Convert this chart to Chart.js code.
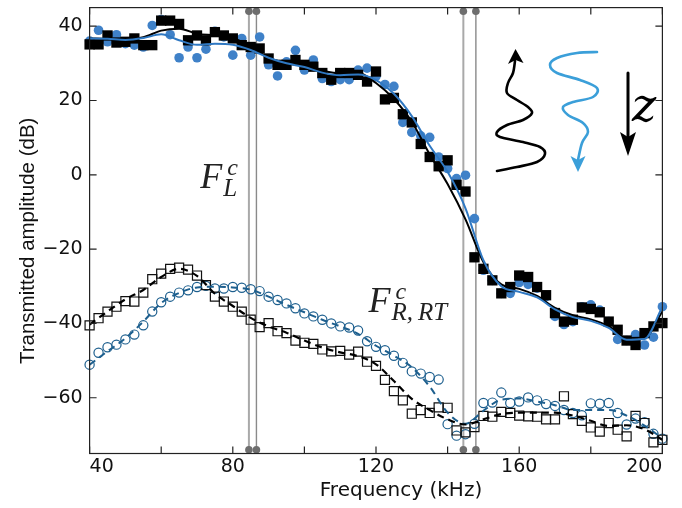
<!DOCTYPE html>
<html>
<head>
<meta charset="utf-8">
<script src="https://cdn.jsdelivr.net/npm/chart.js@4.4.1/dist/chart.umd.min.js"></script>
<style>
  html, body { margin: 0; padding: 0; background: #fff; }
  #wrap { width: 682px; height: 508px; position: relative; }
</style>
</head>
<body>
<div id="wrap"><canvas id="ampChart"></canvas></div>
<script>
// measured frequencies (kHz)
const freq = [
  40, 42.5, 45, 47.5, 50, 52.5, 55, 57.5,
  60, 62.5, 65, 67.5, 70, 72.5, 75, 77.5,
  80, 82.5, 85, 87.5, 90, 92.5, 95, 97.5,
  100, 102.5, 105, 107.5, 110, 112.5, 115, 117.5,
  120, 122.5, 125, 127.5, 130, 132.5, 135, 137.5,
  140, 142.5, 145, 147.5, 150, 152.5, 155, 157.5,
  160, 162.5, 165, 167.5, 170, 172.5, 175, 177.5,
  180, 182.5, 185, 187.5, 190, 192.5, 195, 197.5,
  200,
];
// filled squares (upper, black)
const topBlack = [
  35.1, 35.1, 37.5, 35.6, 35.8, 36.7, 34.9, 34.9,
  41.5, 41.5, 40.6, 36.2, 37.5, 36.2, 38.4, 37.5,
  36.7, 34.9, 34.4, 34.0, 31.3, 29.6, 29.6, 30.9,
  29.6, 29.1, 27.4, 25.6, 27.4, 27.4, 26.9, 25.1,
  27.8, 20.3, 20.7, 16.3, 14.1, 8.3, 4.8, 2.3,
  3.9, -2.7, -4.5, -22.2, -25.3, -28.4, -31.9, -30.2,
  -27.1, -27.5, -30.2, -32.4, -37.2, -39.5, -39.0, -35.7,
  -36.1, -37.0, -39.5, -41.7, -44.6, -45.8, -42.6, -40.8,
  -39.9,
];
// filled circles (upper, blue)
const topBlue = [
  36.0, 38.9, 35.8, 37.7, 35.3, 34.9, 34.4, 40.2,
  41.8, 37.7, 31.5, 34.4, 31.5, 33.8, 38.6, 37.1,
  32.2, 36.7, 32.2, 37.1, 29.6, 26.6, 30.4, 33.5,
  28.2, 30.9, 25.9, 25.1, 25.6, 25.6, 28.2, 28.7,
  26.5, 24.3, 23.8, 14.1, 11.4, 10.5, 10.1, 4.8,
  1.7, -1.0, -0.1, -11.8, -25.7, -28.4, -31.9, -31.9,
  -29.0, -29.5, -30.5, -32.8, -38.1, -40.3, -39.5, -35.5,
  -35.0, -36.4, -39.5, -44.3, -44.6, -43.0, -45.8, -43.7,
  -35.5,
];
// open squares (lower, black)
const botBlack = [
  -40.5, -38.6, -36.8, -35.5, -34.0, -34.1, -31.7, -28.1,
  -26.6, -25.3, -25.0, -25.5, -27.1, -29.7, -32.8, -34.1,
  -35.5, -36.8, -39.0, -41.0, -39.9, -42.1, -42.6, -44.6,
  -45.2, -45.5, -47.0, -47.5, -47.4, -48.4, -47.6, -50.3,
  -51.4, -55.2, -58.2, -60.7, -64.3, -63.3, -64.1, -62.6,
  -62.7, -68.8, -69.3, -67.9, -64.9, -65.1, -63.8, -64.1,
  -64.8, -65.0, -65.1, -65.8, -65.8, -59.6, -64.4, -66.2,
  -68.0, -69.1, -66.8, -68.6, -70.4, -64.9, -66.8, -72.0,
  -71.3,
];
// open circles (lower, blue)
const botBlue = [
  -51.1, -47.9, -46.4, -45.7, -44.3, -43.0, -40.5, -36.8,
  -34.3, -32.8, -31.7, -31.1, -30.2, -29.9, -30.6, -30.6,
  -30.2, -30.4, -30.8, -31.3, -32.8, -33.7, -34.6, -35.9,
  -37.3, -38.1, -39.0, -40.0, -40.8, -41.1, -41.9, -44.8,
  -46.3, -47.2, -48.7, -50.6, -52.9, -53.5, -54.4, -55.1,
  -67.1, -70.2, -69.8, -67.0, -61.4, -61.3, -58.6, -61.4,
  -61.0, -59.9, -60.7, -61.7, -62.2, -63.3, -64.1, -64.7,
  -61.5, -61.6, -61.4, -64.1, -67.2, -65.6, -66.6, -69.7,
  -71.0,
];

// smoothed fits, every 5 kHz
const fitFreq = [
  40, 45, 50, 55, 60, 65, 70, 75,
  80, 85, 90, 95, 100, 105, 110, 115,
  120, 125, 130, 135, 140, 145, 150, 155,
  160, 165, 170, 175, 180, 185, 190, 195,
  200,
];
const fitTopBlack = [
  36.7, 36.6, 36.4, 37.0, 38.8, 39.3, 38.0, 37.5,
  36.8, 34.4, 31.5, 30.0, 29.3, 28.0, 27.3, 27.5,
  24.7, 20.4, 14.3, 5.5, -2.5, -12.0, -23.5, -29.5,
  -30.7, -32.6, -35.8, -37.8, -38.9, -40.7, -43.9, -43.8,
  -36.8,
];
const fitTopBlue = [
  36.7, 36.6, 36.3, 36.8, 37.8, 36.2, 35.0, 35.3,
  35.0, 33.6, 31.5, 30.0, 29.0, 27.5, 26.8, 27.0,
  25.5, 21.8, 15.8, 7.8, 0.8, -9.0, -23.0, -30.0,
  -31.5, -33.0, -36.2, -38.3, -39.3, -41.2, -44.4, -44.2,
  -35.5,
];
const fitBotBlack = [
  -40.3, -36.8, -33.5, -31.0, -27.5, -25.3, -27.2, -32.0,
  -35.3, -38.5, -40.8, -42.5, -44.6, -46.5, -47.8, -48.8,
  -51.0, -55.5, -60.3, -63.3, -65.8, -67.2, -65.8, -64.4,
  -64.0, -64.0, -64.0, -64.8, -66.2, -67.6, -67.4, -68.5,
  -71.3,
];
const fitBotBlue = [
  -51.1, -47.5, -44.0, -39.5, -34.5, -31.8, -30.3, -30.1,
  -30.3, -30.9, -32.8, -35.0, -37.0, -39.0, -40.8, -42.8,
  -46.0, -48.7, -51.8, -57.0, -64.0, -67.0, -63.5, -60.5,
  -60.2, -61.0, -62.0, -63.3, -63.3, -63.3, -64.8, -67.5,
  -70.9,
];

// cut-off frequencies (vertical grey lines)
const cutLight = [84.5, 144.4];
const cutDark = [86.6, 147.9];

const xTickMarks = [40, 60, 80, 100, 120, 140, 160, 180, 200];
const yTickMarks = [-60, -40, -20, 0, 20, 40];

const sansWide = '"DejaVu Sans", sans-serif';
const sans = '"Liberation Sans", Arial, sans-serif';

function pts(xs, ys) {
  return xs.map((x, i) => ({ x, y: ys[i] }));
}
function vlines(xs) {
  const out = [];
  xs.forEach((f) => out.push({ x: f, y: -74 }, { x: f, y: 44 }, { x: f, y: null }));
  return out;
}

function smoothPath(ctx, p) {
  ctx.moveTo(p[0][0], p[0][1]);
  for (let i = 0; i < p.length - 1; i++) {
    const p0 = p[i - 1] || p[i], p1 = p[i], p2 = p[i + 1], p3 = p[i + 2] || p2;
    ctx.bezierCurveTo(
      p1[0] + (p2[0] - p0[0]) / 6, p1[1] + (p2[1] - p0[1]) / 6,
      p2[0] - (p3[0] - p1[0]) / 6, p2[1] - (p3[1] - p1[1]) / 6,
      p2[0], p2[1],
    );
  }
}
function arrowHead(ctx, tip, left, right, notch) {
  ctx.beginPath();
  ctx.moveTo(tip[0], tip[1]);
  ctx.lineTo(left[0], left[1]);
  ctx.lineTo(notch[0], notch[1]);
  ctx.lineTo(right[0], right[1]);
  ctx.closePath();
  ctx.fill();
}

const framePlugin = {
  id: 'frame',
  afterDraw(chart) {
    const { ctx, chartArea: a, scales: { x, y } } = chart;
    ctx.save();
    // box + inward ticks
    ctx.strokeStyle = '#222';
    ctx.lineWidth = 1.2;
    ctx.strokeRect(a.left, a.top, a.right - a.left, a.bottom - a.top);
    ctx.beginPath();
    xTickMarks.forEach((v) => {
      const px = x.getPixelForValue(v);
      ctx.moveTo(px, a.bottom); ctx.lineTo(px, a.bottom - 7);
      ctx.moveTo(px, a.top); ctx.lineTo(px, a.top + 7);
    });
    yTickMarks.forEach((v) => {
      const py = y.getPixelForValue(v);
      ctx.moveTo(a.left, py); ctx.lineTo(a.left + 7, py);
      ctx.moveTo(a.right, py); ctx.lineTo(a.right - 7, py);
    });
    ctx.stroke();

    // F labels
    ctx.fillStyle = '#222';
    ctx.textBaseline = 'alphabetic';
    ctx.textAlign = 'left';
    const lbl = (f, db, sub) => {
      const px = x.getPixelForValue(f), py = y.getPixelForValue(db);
      ctx.font = 'italic 36px "Liberation Serif", serif';
      ctx.fillText('F', px, py);
      ctx.font = 'italic 24px "Liberation Serif", serif';
      ctx.fillText('c', px + 27, py - 13);
      ctx.font = 'italic 25px "Liberation Serif", serif';
      ctx.fillText(sub, px + 23, py + 8);
    };
    lbl(70.9, -3.6, 'L');
    lbl(117.9, -36.8, 'R,\u2009RT');

    // inset: waves and propagation arrow
    ctx.lineWidth = 2.6;
    ctx.lineCap = 'round';
    ctx.lineJoin = 'round';
    ctx.strokeStyle = '#000';
    ctx.fillStyle = '#000';
    ctx.beginPath();
    smoothPath(ctx, [
      [497, 171], [517, 167], [537, 162], [545, 154], [540, 147], [523, 142],
      [500, 137], [497, 132], [507, 125], [523, 120], [532, 113], [528, 107],
      [517, 100], [507, 93], [508, 83], [513, 73], [515, 61],
    ]);
    ctx.stroke();
    arrowHead(ctx, [515.5, 49], [508, 64], [523.5, 63], [515.5, 60]);

    ctx.strokeStyle = '#3b9fd9';
    ctx.fillStyle = '#3b9fd9';
    ctx.beginPath();
    smoothPath(ctx, [
      [597, 52], [577, 53], [557, 58], [550, 65], [557, 73], [580, 80],
      [597, 88], [593, 97], [573, 102], [563, 107], [568, 115], [583, 123],
      [588, 132], [582, 143], [578, 160],
    ]);
    ctx.stroke();
    arrowHead(ctx, [578, 172], [570.5, 156], [585.5, 156], [578, 160]);

    ctx.strokeStyle = '#000';
    ctx.fillStyle = '#000';
    ctx.lineWidth = 3;
    ctx.beginPath();
    ctx.moveTo(628, 73);
    ctx.lineTo(628, 138);
    ctx.stroke();
    arrowHead(ctx, [628, 156], [620, 132], [636, 132], [628, 137]);
    ctx.font = 'italic 46px "DejaVu Serif", serif';
    ctx.fillText('z', 632, 121);
    ctx.restore();
  },
};

const ctx = document.getElementById('ampChart').getContext('2d');
new Chart(ctx, {
  type: 'line',
  data: {
    datasets: [
      {
        data: vlines(cutLight), borderColor: '#a9a9a9', borderWidth: 2,
        pointRadius: 3.8, pointBackgroundColor: '#6e6e6e', pointBorderWidth: 0,
        spanGaps: false, order: 9,
      },
      {
        data: vlines(cutDark), borderColor: '#8a8a8a', borderWidth: 1.4,
        pointRadius: 3.8, pointBackgroundColor: '#6e6e6e', pointBorderWidth: 0,
        spanGaps: false, order: 9,
      },
      {
        data: pts(freq, botBlue), showLine: false, pointStyle: 'circle', pointRadius: 4.6,
        pointBorderColor: '#1d5f8e', pointBackgroundColor: 'rgba(0,0,0,0)', pointBorderWidth: 1.2, order: 8,
      },
      {
        data: pts(freq, botBlack), showLine: false, pointStyle: 'rect', pointRadius: 6.4,
        pointBorderColor: '#111', pointBackgroundColor: 'rgba(0,0,0,0)', pointBorderWidth: 1.2, order: 7,
      },
      {
        data: pts(fitFreq, fitBotBlue), borderColor: '#1d5f8e', borderWidth: 2, borderDash: [7, 5],
        pointRadius: 0, cubicInterpolationMode: 'monotone', order: 6,
      },
      {
        data: pts(fitFreq, fitBotBlack), borderColor: '#000', borderWidth: 2.2, borderDash: [7, 5],
        pointRadius: 0, cubicInterpolationMode: 'monotone', order: 5,
      },
      {
        data: pts(freq, topBlue), showLine: false, pointStyle: 'circle', pointRadius: 4.8,
        pointBorderWidth: 0, pointBackgroundColor: '#3f81c8', order: 4,
      },
      {
        data: pts(freq, topBlack), showLine: false, pointStyle: 'rect', pointRadius: 7.3,
        pointBorderWidth: 0, pointBackgroundColor: '#000', order: 3,
      },
      {
        data: pts(fitFreq, fitTopBlack), borderColor: '#000', borderWidth: 2,
        pointRadius: 0, cubicInterpolationMode: 'monotone', order: 2,
      },
      {
        data: pts(fitFreq, fitTopBlue), borderColor: '#2f78c2', borderWidth: 2,
        pointRadius: 0, cubicInterpolationMode: 'monotone', order: 1,
      },
    ].map((d) => ({ clip: false, ...d })),
  },
  options: {
    responsive: true,
    maintainAspectRatio: false,
    animation: false,
    events: [],
    layout: { padding: { left: 0, right: 19.6, top: 2.5, bottom: 0 } },
    plugins: { legend: { display: false }, tooltip: { enabled: false } },
    scales: {
      x: {
        type: 'linear',
        min: 40,
        max: 200,
        grid: { display: false, drawTicks: false, tickLength: 0 },
        border: { display: false },
        ticks: {
          stepSize: 40,
          align: 'inner',
          maxRotation: 0,
          autoSkip: false,
          padding: 2,
          color: '#111',
          font: { family: sansWide, size: 19 },
        },
        title: {
          display: true,
          text: '\u2003\u2003\u2002Frequency (kHz)',
          color: '#111',
          padding: { top: 0, bottom: 5 },
          font: { family: sansWide, size: 20 },
        },
        afterFit: (s) => {
          s.height = 54.5;
          s.paddingLeft = 0;
          s.paddingRight = 0;
        },
      },
      y: {
        min: -75,
        max: 45,
        grid: { display: false, drawTicks: false, tickLength: 0 },
        border: { display: false },
        afterBuildTicks: (s) => { s.ticks = yTickMarks.map((v) => ({ value: v })); },
        ticks: {
          padding: 7,
          color: '#111',
          font: { family: sansWide, size: 19 },
          callback: (v) => (v < 0 ? '\u2212' + Math.abs(v) : String(v)),
        },
        title: {
          display: true,
          text: 'Transmitted amplitude (dB)\u2003',
          color: '#111',
          padding: { top: 16, bottom: 0 },
          font: { family: sans, size: 20.5 },
        },
        afterFit: (s) => {
          s.width = 89.6;
          s.paddingTop = 0;
          s.paddingBottom = 0;
        },
      },
    },
  },
  plugins: [framePlugin],
});
</script>
</body>
</html>
